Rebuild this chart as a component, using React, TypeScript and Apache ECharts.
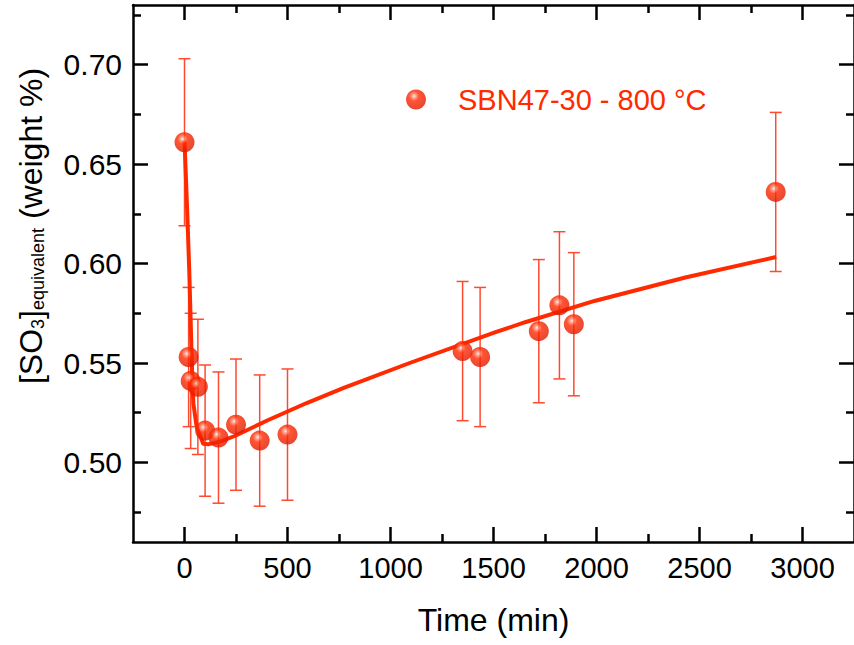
import React, { useEffect, useRef } from "react";
import * as echarts from "echarts";

// ---- data ----
const seriesName = "SBN47-30 - 800 °C";
const timeMin = [0, 20, 30, 65, 100, 165, 250, 365, 500, 1350, 1435, 1720, 1820, 1890, 2870];
const so3 = [0.661, 0.553, 0.541, 0.538, 0.516, 0.5125, 0.519, 0.511, 0.514, 0.556, 0.553, 0.566, 0.579, 0.5695, 0.636];
const so3Err = [0.042, 0.035, 0.034, 0.034, 0.033, 0.033, 0.033, 0.033, 0.033, 0.035, 0.035, 0.036, 0.037, 0.036, 0.04];

const fitTime = [0, 11, 23, 38, 43, 59, 91, 115, 179, 244, 404, 596, 773, 1093, 1510, 1654, 1990, 2431, 2872];
const fitValue = [0.6616, 0.6322, 0.5969, 0.5414, 0.5298, 0.5178, 0.5094, 0.5091, 0.5107, 0.5133, 0.5212, 0.53, 0.5375, 0.55, 0.5655, 0.5705, 0.5812, 0.593, 0.6033];

const xMajorTicks = [0, 500, 1000, 1500, 2000, 2500, 3000];
const xMinorTicks = [250, 750, 1250, 1750, 2250, 2750];
const yMajorTicks = [0.5, 0.55, 0.6, 0.65, 0.7];
const yMinorTicks = [0.475, 0.525, 0.575, 0.625, 0.675, 0.725];

const X_MIN = -250;
const X_MAX = 3250;
const Y_MIN = 0.46;
const Y_MAX = 0.73;

const FONT = '"Liberation Sans", Arial, Helvetica, sans-serif';
const RED = "#ff2a00";
const ERR_RED = "#ff4a30";

function xAxisDef(position: "top" | "bottom", major: boolean, showLabel: boolean, extra: any = {}) {
  return {
    type: "value",
    position,
    min: X_MIN,
    max: X_MAX,
    splitLine: { show: false },
    axisLine: { show: major, onZero: false, lineStyle: { color: "#000", width: 2.5 } },
    axisTick: {
      show: true,
      inside: true,
      length: major ? 15 : 8,
      lineStyle: { color: "#000", width: 2.5 },
      customValues: major ? xMajorTicks : xMinorTicks,
    },
    axisLabel: {
      show: showLabel,
      customValues: xMajorTicks,
      margin: 11,
      fontSize: 29,
      fontFamily: FONT,
      color: "#000",
      formatter: (v: number) => String(v),
    },
    ...extra,
  };
}

function yAxisDef(position: "left" | "right", major: boolean, showLabel: boolean) {
  return {
    type: "value",
    position,
    min: Y_MIN,
    max: Y_MAX,
    splitLine: { show: false },
    axisLine: { show: major, onZero: false, lineStyle: { color: "#000", width: 2.5 } },
    axisTick: {
      show: true,
      inside: true,
      length: major ? 15 : 8,
      lineStyle: { color: "#000", width: 2.5 },
      customValues: major ? yMajorTicks : yMinorTicks,
    },
    axisLabel: {
      show: showLabel,
      customValues: yMajorTicks,
      margin: 11,
      fontSize: 30,
      fontFamily: FONT,
      color: "#000",
      formatter: (v: number) => v.toFixed(2),
    },
  };
}

export default function App() {
  const ref = useRef<HTMLDivElement>(null);

  useEffect(() => {
    if (!ref.current) return;
    const chart = echarts.init(ref.current, undefined, { renderer: "svg" });

    const sphere = new echarts.graphic.RadialGradient(0.4, 0.33, 0.65, [
      { offset: 0, color: "#fff4f0" },
      { offset: 0.12, color: "#ff9c88" },
      { offset: 0.38, color: "#ff2a00" },
      { offset: 1, color: "#e01a00" },
    ]);

    const errData = timeMin.map((t, i) => [t, so3[i] - so3Err[i], so3[i] + so3Err[i]]);
    const pts = timeMin.map((t, i) => [t, so3[i]]);
    const fit = fitTime.map((t, i) => [t, fitValue[i]]);

    const option: any = {
      animation: false,
      backgroundColor: "#fff",
      grid: { left: 133, top: 5, width: 729, height: 537 },
      legend: {
        data: [seriesName],
        left: 401,
        top: 80,
        itemWidth: 20,
        itemHeight: 20,
        textStyle: { fontSize: 29, fontFamily: FONT, color: RED, padding: [0, 0, 0, 27] },
      },
      xAxis: [
        xAxisDef("bottom", true, true, {
          name: "Time (min)",
          nameLocation: "middle",
          nameGap: 62,
          nameTextStyle: { fontSize: 32, fontFamily: FONT, color: "#000" },
        }),
        xAxisDef("bottom", false, false),
        xAxisDef("top", true, false),
        xAxisDef("top", false, false),
      ],
      yAxis: [
        yAxisDef("left", true, true),
        yAxisDef("left", false, false),
        yAxisDef("right", true, false),
        yAxisDef("right", false, false),
      ],
      graphic: [
        {
          type: "text",
          x: 31,
          y: 226,
          rotation: Math.PI / 2,
          style: {
            text: "{a|[SO}{s|3}{a|]}{s|equivalent}{a| (weight %)}",
            align: "center",
            verticalAlign: "middle",
            rich: {
              a: { fontSize: 32, lineHeight: 32, fontFamily: FONT, fill: "#000" },
              s: { fontSize: 18, lineHeight: 18, verticalAlign: "bottom", fontFamily: FONT, fill: "#000" },
            },
          },
        },
      ],
      series: [
        {
          type: "custom",
          name: "err",
          xAxisIndex: 0,
          yAxisIndex: 0,
          data: errData,
          encode: { x: 0, y: [1, 2] },
          z: 1,
          renderItem: (params: any, api: any) => {
            const x = api.value(0);
            const lo = api.coord([x, api.value(1)]);
            const hi = api.coord([x, api.value(2)]);
            const w = 6;
            const style = { stroke: ERR_RED, lineWidth: 1.5 };
            return {
              type: "group",
              children: [
                { type: "line", shape: { x1: hi[0], y1: hi[1], x2: lo[0], y2: lo[1] }, style },
                { type: "line", shape: { x1: hi[0] - w, y1: hi[1], x2: hi[0] + w, y2: hi[1] }, style },
                { type: "line", shape: { x1: lo[0] - w, y1: lo[1], x2: lo[0] + w, y2: lo[1] }, style },
              ],
            };
          },
        },
        {
          type: "line",
          name: "fit",
          xAxisIndex: 0,
          yAxisIndex: 0,
          data: fit,
          showSymbol: false,
          symbol: "none",
          smooth: false,
          z: 2,
          lineStyle: { color: RED, width: 4, join: "round" },
        },
        {
          type: "scatter",
          name: seriesName,
          xAxisIndex: 0,
          yAxisIndex: 0,
          data: pts,
          symbol: "circle",
          symbolSize: 20,
          z: 3,
          itemStyle: { color: sphere },
        },
      ],
    };

    chart.setOption(option);
    return () => chart.dispose();
  }, []);

  return (
    <div
      ref={ref}
      style={{ position: "fixed", left: 0, top: 0, width: 854, height: 645, background: "#fff" }}
    />
  );
}
